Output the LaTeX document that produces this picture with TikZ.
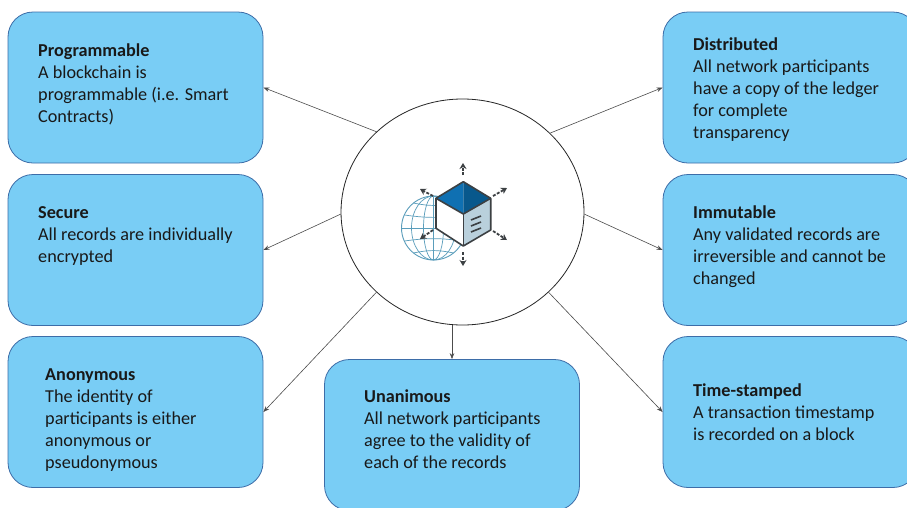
\documentclass[tikz,border=0pt]{standalone}
\usepackage{fontspec}
\setmainfont{Carlito}
\usetikzlibrary{shapes.geometric,arrows.meta}
\definecolor{boxfill}{HTML}{79CDF5}
\definecolor{boxline}{HTML}{3D6DA8}
\definecolor{globeline}{HTML}{5A9DBB}
\definecolor{cubeline}{HTML}{3C4043}
\definecolor{cubeside}{HTML}{B9D0DC}
\definecolor{cubetopl}{HTML}{0F70B2}
\definecolor{cubetopr}{HTML}{08588C}
\tikzset{
  cardbox/.style={draw=boxline,fill=boxfill,rounded corners=25pt,line width=0.8pt,
    minimum width=255pt,minimum height=151pt,inner sep=0pt},
  cardtext/.style={anchor=north west,inner sep=0pt,align=left,text=black!90,
    font=\fontsize{18.2}{22}\selectfont},
  hub/.style={draw=black!85,fill=white,ellipse,line width=0.8pt,
    minimum width=243pt,minimum height=226pt,inner sep=0pt},
  link/.style={draw=black!70,line width=0.6pt,-{Stealth[length=6pt,width=4.5pt]}},
  spoke/.style={draw=cubeline,line width=1.8pt,dash pattern=on 3pt off 1.5pt,
    -{Stealth[length=6pt,width=7pt]}},
  cubeedge/.style={draw=cubeline,line width=1.6pt,line join=round},
  globewire/.style={draw=globeline,line width=0.7pt}
}
\begin{document}
\begin{tikzpicture}[x=1pt,y=-1pt]
  \clip (0,0) rectangle (907,507);
  \fill[white] (0,0) rectangle (907,507);
  % boxes
  \node[cardbox] (programmable) at (135.5,87.5) {};
  \node[cardbox] (secure) at (135.5,250) {};
  \node[cardbox] (anonymous) at (135.5,412) {};
  \node[cardbox] (unanimous) at (452,435) {};
  \node[cardbox] (distributed) at (790.5,87.5) {};
  \node[cardbox] (immutable) at (790.5,250) {};
  \node[cardbox] (timestamped) at (790.5,412) {};
  \node[hub] (center) at (462.5,212) {};
  % box texts
  \node[cardtext] (t1) at (38,44) {\textbf{Programmable}\\A blockchain is\\programmable (i.e. Smart\\Contracts)};
  \node[cardtext] (t2) at (38,206) {\textbf{Secure}\\All records are individually\\encrypted};
  \node[cardtext] (t3) at (45,368) {\textbf{Anonymous}\\The identity of\\participants is either\\anonymous or\\pseudonymous};
  \node[cardtext] (t4) at (364,390) {\textbf{Unanimous}\\All network participants\\agree to the validity of\\each of the records};
  \node[cardtext] (t5) at (693,38) {\textbf{Distributed}\\All network participants\\have a copy of the ledger\\for complete\\transparency};
  \node[cardtext] (t6) at (693,206) {\textbf{Immutable}\\Any validated records are\\irreversible and cannot be\\changed};
  \node[cardtext] (t7) at (693,384) {\textbf{Time-stamped}\\A transaction timestamp\\is recorded on a block};
  % connectors
  \draw[link] (center.137.4) to (programmable.east);
  \draw[link] (center.181) to (secure.east);
  \draw[link] (center.223) to (anonymous.east);
  \draw[link] (unanimous.north |- center.south) to (unanimous.north);
  \draw[link] (center.-43) to (timestamped.west);
  \draw[link] (center.-1) to (immutable.west);
  \draw[link] (center.42.6) to (distributed.west);
  % globe
  \begin{scope}[shift={(433.5,228)}]
    \draw[globewire,line width=0.9pt] (0,0) circle (32);
    \draw[globewire] (0,0) ellipse (10 and 32);
    \draw[globewire] (0,0) ellipse (22 and 32);
    \draw[globewire] (-32,0) -- (32,0);
    \draw[globewire] (-29,-13) to[bend right=8] (29,-13);
    \draw[globewire] (-29,13) to[bend left=8] (29,13);
    \draw[globewire] (-20,-25) to[bend right=12] (20,-25);
    \draw[globewire] (-20,25) to[bend left=12] (20,25);
    \draw[globewire] (0,-32) -- (0,32);
  \end{scope}
  % cube
  \coordinate (ctop) at (463.3,181.7);
  \coordinate (cright) at (490.7,198.3);
  \coordinate (cmid) at (463.3,214);
  \coordinate (cleft) at (436,198.3);
  \coordinate (cbottom) at (463.3,246);
  \coordinate (clowr) at (490.7,230);
  \coordinate (clowl) at (436,228.3);
  \fill[white] (cleft) -- (cmid) -- (cbottom) -- (clowl) -- cycle;
  \fill[cubeside] (cmid) -- (cright) -- (clowr) -- (cbottom) -- cycle;
  \fill[cubetopl] (cleft) -- (ctop) -- (cmid) -- cycle;
  \fill[cubetopr] (ctop) -- (cright) -- (cmid) -- cycle;
  \draw[cubeedge] (ctop) -- (cright) -- (clowr) -- (cbottom) -- (clowl) -- (cleft) -- cycle;
  \draw[cubeedge] (cleft) -- (cmid) -- (cright);
  \draw[cubeedge] (cmid) -- (cbottom);
  \draw[cubeedge] (471,220) -- (481,216);
  \draw[cubeedge] (471,226) -- (481,222);
  \draw[cubeedge] (471,232) -- (481,228);
  % small arrows
  \draw[spoke] (463,175) -- (463,163);
  \draw[spoke] (463,252) -- (463,266);
  \draw[spoke] (493,196) -- (507,188);
  \draw[spoke] (493,231) -- (507,240);
  \draw[spoke] (433,196) -- (420,189);
  \draw[spoke] (433,230) -- (420,239);
\end{tikzpicture}
\end{document}
